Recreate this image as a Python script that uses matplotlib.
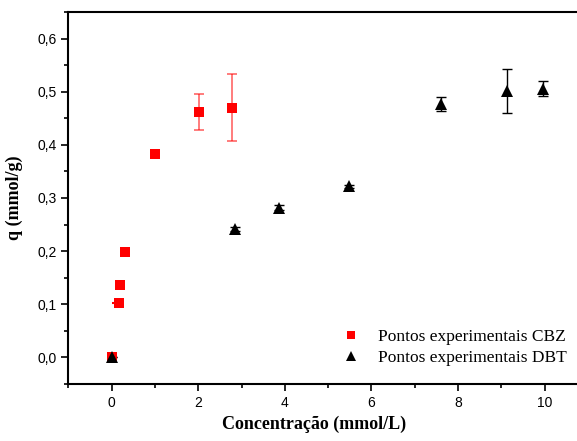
import matplotlib
matplotlib.use("Agg")
import matplotlib.pyplot as plt
from matplotlib.ticker import MultipleLocator, FuncFormatter

# CBZ data
cbz_x = [0.0, 0.17, 0.19, 0.30, 0.99, 2.02, 2.79]
cbz_y = [0.0, 0.103, 0.136, 0.198, 0.383, 0.462, 0.470]
cbz_yerr = [0.0, 0.0, 0.0, 0.0, 0.0, 0.034, 0.063]
cbz_xerr_lo = [0.0, 0.15, 0.0, 0.0, 0.0, 0.07, 0.03]
cbz_xerr_hi = [0.0, 0.0, 0.0, 0.0, 0.0, 0.07, 0.03]

# DBT data
dbt_x = [0.0, 2.85, 3.86, 5.48, 7.61, 9.13, 9.96]
dbt_y = [0.0, 0.241, 0.282, 0.322, 0.477, 0.501, 0.506]
dbt_yerr = [0.0, 0.004, 0.004, 0.003, 0.013, 0.041, 0.014]

labels = ["Pontos experimentais CBZ", "Pontos experimentais DBT"]

fig = plt.figure(figsize=(5.77, 4.41), dpi=100)
ax = fig.add_axes([0.1184, 0.1293, 0.9007, 0.8435])

ax.errorbar(cbz_x, cbz_y, yerr=cbz_yerr, fmt='none',
            ecolor=(1, 0, 0, 0.6), elinewidth=1.2, capsize=3.5, capthick=1.2, zorder=2)
ax.errorbar(cbz_x, cbz_y, xerr=[cbz_xerr_lo, cbz_xerr_hi], fmt='none',
            ecolor='#ff0000', elinewidth=1.5, capsize=0, zorder=2)
ax.plot(cbz_x, cbz_y, 's', color='#ff0000', markersize=6.5, markeredgewidth=0,
        label=labels[0], zorder=3)

ax.errorbar(dbt_x, dbt_y, yerr=dbt_yerr, fmt='none', ecolor='black',
            elinewidth=1.0, capsize=3.5, capthick=1.0, zorder=2)
ax.plot(dbt_x, dbt_y, '^', color='black', markersize=8, markeredgewidth=0,
        label=labels[1], zorder=4)

ax.set_xlim(-1, 11)
ax.set_ylim(-0.05, 0.65)

ax.xaxis.set_major_locator(MultipleLocator(2))
ax.xaxis.set_minor_locator(MultipleLocator(1))
ax.yaxis.set_major_locator(MultipleLocator(0.1))
ax.yaxis.set_minor_locator(MultipleLocator(0.05))
ax.yaxis.set_major_formatter(FuncFormatter(lambda v, p: f"{v:.1f}".replace('.', ',').replace('-0,0', '0,0')))
ax.xaxis.set_major_formatter(FuncFormatter(lambda v, p: f"{v:.0f}"))

ax.tick_params(which='both', direction='out', top=False, right=False,
               labelsize=10, width=1.2)
ax.tick_params(which='major', length=5)
ax.tick_params(which='minor', length=3)
for lab in ax.get_xticklabels() + ax.get_yticklabels():
    lab.set_fontfamily('Liberation Sans')

for s in ax.spines.values():
    s.set_linewidth(1.5)
ax.spines['right'].set_visible(False)

ax.set_xlabel("Concentração (mmol/L)", fontfamily='Liberation Serif',
              fontweight='bold', fontsize=13)
ax.set_ylabel("q (mmol/g)", fontfamily='Liberation Serif',
              fontweight='bold', fontsize=13, labelpad=10)
ax.xaxis.set_label_coords(0.472, -0.085)

leg = ax.legend(loc='lower right', bbox_to_anchor=(0.99, 0.005), frameon=False,
                prop={'family': 'Liberation Serif', 'size': 12.5},
                handletextpad=0.6, labelspacing=0.3, markerscale=0.85)

fig.savefig("out.png", dpi=100)
